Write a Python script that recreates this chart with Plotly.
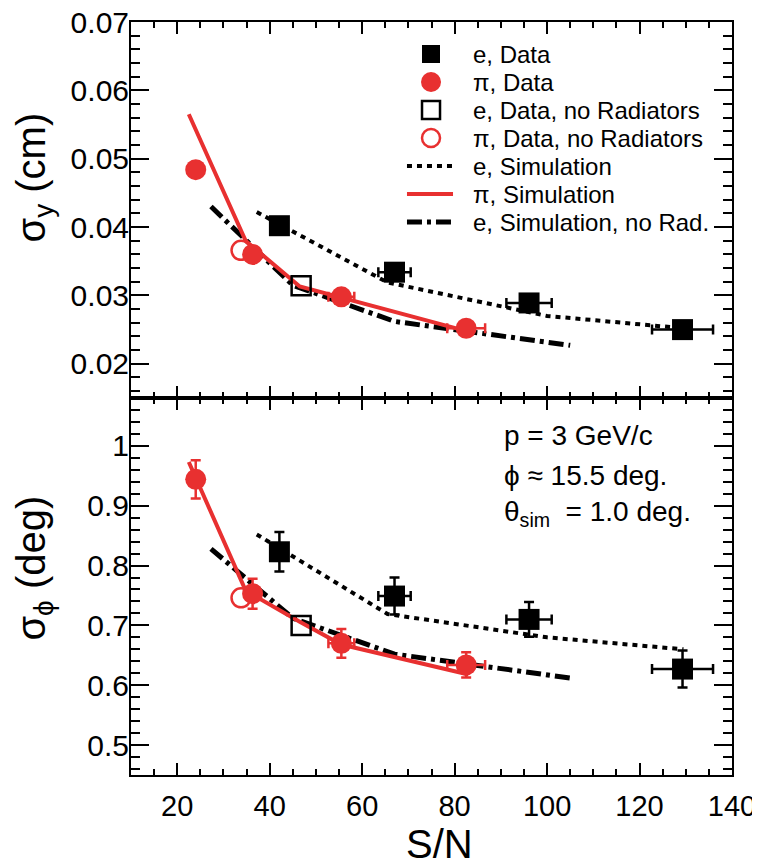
import plotly.graph_objects as go

# ---------------------------------------------------------------------------
# Data
# ---------------------------------------------------------------------------

# e, Data (filled black squares)
e_data_sn = [42.1, 67.0, 96.1, 129.3]
e_data_sn_err = [1.5, 3.5, 4.9, 6.6]
e_data_sy = [0.0402, 0.0334, 0.0289, 0.0250]
e_data_sphi = [0.823, 0.749, 0.710, 0.627]
e_data_sphi_err = [0.033, 0.031, 0.029, 0.031]

# pi, Data (filled red circles)
pi_data_sn = [24.0, 36.3, 55.5, 82.5]
pi_data_sn_err = [0.7, 1.2, 2.8, 4.1]
pi_data_sy = [0.0484, 0.0360, 0.0298, 0.0252]
pi_data_sphi = [0.944, 0.753, 0.670, 0.634]
pi_data_sphi_err = [0.032, 0.025, 0.024, 0.021]

# no radiators (open markers)
e_norad_sn = [46.8]
e_norad_sy = [0.0314]
e_norad_sphi = [0.700]
pi_norad_sn = [33.8]
pi_norad_sy = [0.0366]
pi_norad_sphi = [0.746]

# simulations
e_sim_sn = [37.2, 65.5, 100.0, 129.5]
e_sim_sy = [0.0422, 0.0319, 0.0270, 0.0252]
e_sim_sphi = [0.852, 0.719, 0.680, 0.660]

pi_sim_sn = [22.5, 34.8, 46.5, 55.5, 83.0]
pi_sim_sy = [0.0565, 0.0380, 0.0313, 0.0297, 0.0247]
pi_sim_sphi = [0.973, 0.758, 0.706, 0.668, 0.618]

e_sim_norad_sn = [27.3, 45.0, 67.0, 105.0]
e_sim_norad_sy = [0.0430, 0.0315, 0.0262, 0.0227]
e_sim_norad_sphi = [0.828, 0.712, 0.652, 0.612]

legend_labels = ["e, Data", "π, Data", "e, Data, no Radiators", "π, Data, no Radiators",
                 "e, Simulation", "π, Simulation", "e, Simulation, no Rad."]
info_lines = ["p = 3 GeV/c", "ϕ ≈ 15.5 deg.", "θ<sub>sim</sub>  = 1.0 deg."]

# ---------------------------------------------------------------------------
# Styles
# ---------------------------------------------------------------------------

RED = "#e83030"
BLACK = "#000000"
FONT = "Liberation Sans, Arial, sans-serif"

DOT = "5px,5px"
DASHDOT = "15px,5px,4px,5px"

fig = go.Figure()


def add_panel(xa, ya, vals, with_yerr):
    """Draw one panel; vals holds the sigma_y or sigma_phi series."""
    sim_e, sim_pi, sim_nr, d_e, d_pi, nr_e, nr_pi = vals
    # simulation curves
    fig.add_trace(go.Scatter(
        x=e_sim_sn, y=sim_e, xaxis=xa, yaxis=ya, mode="lines",
        line=dict(color=BLACK, width=4, dash=DOT), showlegend=False, hoverinfo="skip"))
    fig.add_trace(go.Scatter(
        x=e_sim_norad_sn, y=sim_nr, xaxis=xa, yaxis=ya, mode="lines",
        line=dict(color=BLACK, width=5, dash=DASHDOT), showlegend=False, hoverinfo="skip"))
    fig.add_trace(go.Scatter(
        x=pi_sim_sn, y=sim_pi, xaxis=xa, yaxis=ya, mode="lines",
        line=dict(color=RED, width=4), showlegend=False, hoverinfo="skip"))

    # open markers
    fig.add_trace(go.Scatter(
        x=e_norad_sn, y=nr_e, xaxis=xa, yaxis=ya, mode="markers",
        marker=dict(symbol="square-open", size=19, color=BLACK, line=dict(width=2.5)),
        showlegend=False))
    fig.add_trace(go.Scatter(
        x=pi_norad_sn, y=nr_pi, xaxis=xa, yaxis=ya, mode="markers",
        marker=dict(symbol="circle-open", size=19, color=RED, line=dict(width=2.5)),
        showlegend=False))

    # data with error bars
    ey_e = dict(type="data", array=e_data_sphi_err, color=BLACK, thickness=2.5, width=5) if with_yerr else None
    ey_pi = dict(type="data", array=pi_data_sphi_err, color=RED, thickness=2.5, width=5) if with_yerr else None
    fig.add_trace(go.Scatter(
        x=e_data_sn, y=d_e, xaxis=xa, yaxis=ya, mode="markers",
        marker=dict(symbol="square", size=21, color=BLACK),
        error_x=dict(type="data", array=e_data_sn_err, color=BLACK, thickness=2.5, width=5),
        error_y=ey_e, showlegend=False))
    fig.add_trace(go.Scatter(
        x=pi_data_sn, y=d_pi, xaxis=xa, yaxis=ya, mode="markers",
        marker=dict(symbol="circle", size=21, color=RED),
        error_x=dict(type="data", array=pi_data_sn_err, color=RED, thickness=2.5, width=5),
        error_y=ey_pi, showlegend=False))


add_panel("x2", "y2", (e_sim_sy, pi_sim_sy, e_sim_norad_sy, e_data_sy, pi_data_sy,
                       e_norad_sy, pi_norad_sy), False)
add_panel("x", "y", (e_sim_sphi, pi_sim_sphi, e_sim_norad_sphi, e_data_sphi, pi_data_sphi,
                     e_norad_sphi, pi_norad_sphi), True)

# ---------------------------------------------------------------------------
# Legend (drawn by hand, ROOT style: tight rows, no box)
# ---------------------------------------------------------------------------

LEG_SYM_X = 0.4992
LEG_LINE_X = (0.4592, 0.5358)
LEG_TEXT_X = 0.5657
LEG_TOP_Y = 0.9575
LEG_STEP = 0.0372

samples = [
    ("rect", BLACK, True),
    ("circle", RED, True),
    ("rect", BLACK, False),
    ("circle", RED, False),
    ("line", BLACK, dict(width=4, dash=DOT)),
    ("line", RED, dict(width=4)),
    ("line", BLACK, dict(width=5, dash=DASHDOT)),
]
for i, (label, (kind, col, style)) in enumerate(zip(legend_labels, samples)):
    yp = LEG_TOP_Y - i * LEG_STEP
    if kind == "line":
        fig.add_shape(type="line", xref="paper", yref="paper",
                      x0=LEG_LINE_X[0], x1=LEG_LINE_X[1], y0=yp, y1=yp,
                      line=dict(color=col, **style))
    else:
        half = 9 if kind == "rect" else 10
        if not style:
            half = 9
        fig.add_shape(type=kind, xref="paper", yref="paper",
                      xsizemode="pixel", ysizemode="pixel",
                      xanchor=LEG_SYM_X, yanchor=yp,
                      x0=-half, x1=half, y0=-half, y1=half,
                      fillcolor=col if style else "rgba(0,0,0,0)",
                      line=dict(color=col, width=0 if style else 2.5))
    fig.add_annotation(x=LEG_TEXT_X, y=yp, xref="paper", yref="paper", text=label,
                       showarrow=False, xanchor="left", yanchor="middle",
                       font=dict(family=FONT, size=24, color=BLACK))

# text block in the lower panel
for txt, yp in zip(info_lines, [0.4502, 0.3984, 0.3479]):
    fig.add_annotation(x=0.6173, y=yp, xref="paper", yref="paper", text=txt,
                       showarrow=False, xanchor="left", yanchor="middle",
                       font=dict(family=FONT, size=28, color=BLACK))

# axis titles
fig.add_annotation(x=-0.162, y=0.793, xref="paper", yref="paper",
                   text="σ<sub>y</sub> (cm)", textangle=-90, showarrow=False,
                   xanchor="center", yanchor="middle", font=dict(family=FONT, size=40, color=BLACK))
fig.add_annotation(x=-0.162, y=0.275, xref="paper", yref="paper",
                   text="σ<sub>ϕ</sub> (deg)", textangle=-90, showarrow=False,
                   xanchor="center", yanchor="middle", font=dict(family=FONT, size=40, color=BLACK))
fig.add_annotation(x=0.514, y=-0.091, xref="paper", yref="paper",
                   text="S/N", showarrow=False,
                   xanchor="center", yanchor="middle", font=dict(family=FONT, size=40, color=BLACK))

# ---------------------------------------------------------------------------
# Layout
# ---------------------------------------------------------------------------

SPLIT = 0.5007

xcommon = dict(
    range=[10, 140], showline=True, linecolor=BLACK, linewidth=2, mirror="ticks",
    ticks="inside", ticklen=12, tickwidth=1.5, tickcolor=BLACK, dtick=20, tick0=0,
    minor=dict(dtick=5, ticklen=6, tickwidth=1.5, tickcolor=BLACK, ticks="inside"),
    showgrid=False, zeroline=False, automargin=False,
    ticklabelstandoff=4, ticklabeloverflow="allow",
    tickfont=dict(family=FONT, size=29, color=BLACK),
)
ycommon = dict(
    showline=True, linecolor=BLACK, linewidth=2, mirror="ticks",
    ticks="inside", ticklen=18, tickwidth=1.5, tickcolor=BLACK,
    showgrid=False, zeroline=False, automargin=False,
    ticklabelstandoff=-6, ticklabeloverflow="allow",
    tickfont=dict(family=FONT, size=30, color=BLACK),
)

# the page body adds an 8px offset, so margins are trimmed to compensate
fig.update_layout(
    width=760, height=868,
    margin=dict(l=123, r=36, t=14, b=101, autoexpand=False),
    plot_bgcolor="white", paper_bgcolor="white",
    font=dict(family=FONT, color=BLACK),
    showlegend=False,
    xaxis=dict(anchor="y", domain=[0, 1], **xcommon),
    xaxis2=dict(anchor="y2", domain=[0, 1], matches="x", showticklabels=False, **xcommon),
    yaxis=dict(anchor="x", domain=[0, SPLIT], range=[0.45, 1.08], dtick=0.1, tick0=0,
               minor=dict(dtick=0.02, ticklen=9, tickwidth=1.5, tickcolor=BLACK, ticks="inside"),
               **ycommon),
    yaxis2=dict(anchor="x2", domain=[SPLIT, 1], range=[0.015, 0.07], dtick=0.01, tick0=0,
                minor=dict(dtick=0.002, ticklen=9, tickwidth=1.5, tickcolor=BLACK, ticks="inside"),
                **ycommon),
)

fig.write_html("out.html")
